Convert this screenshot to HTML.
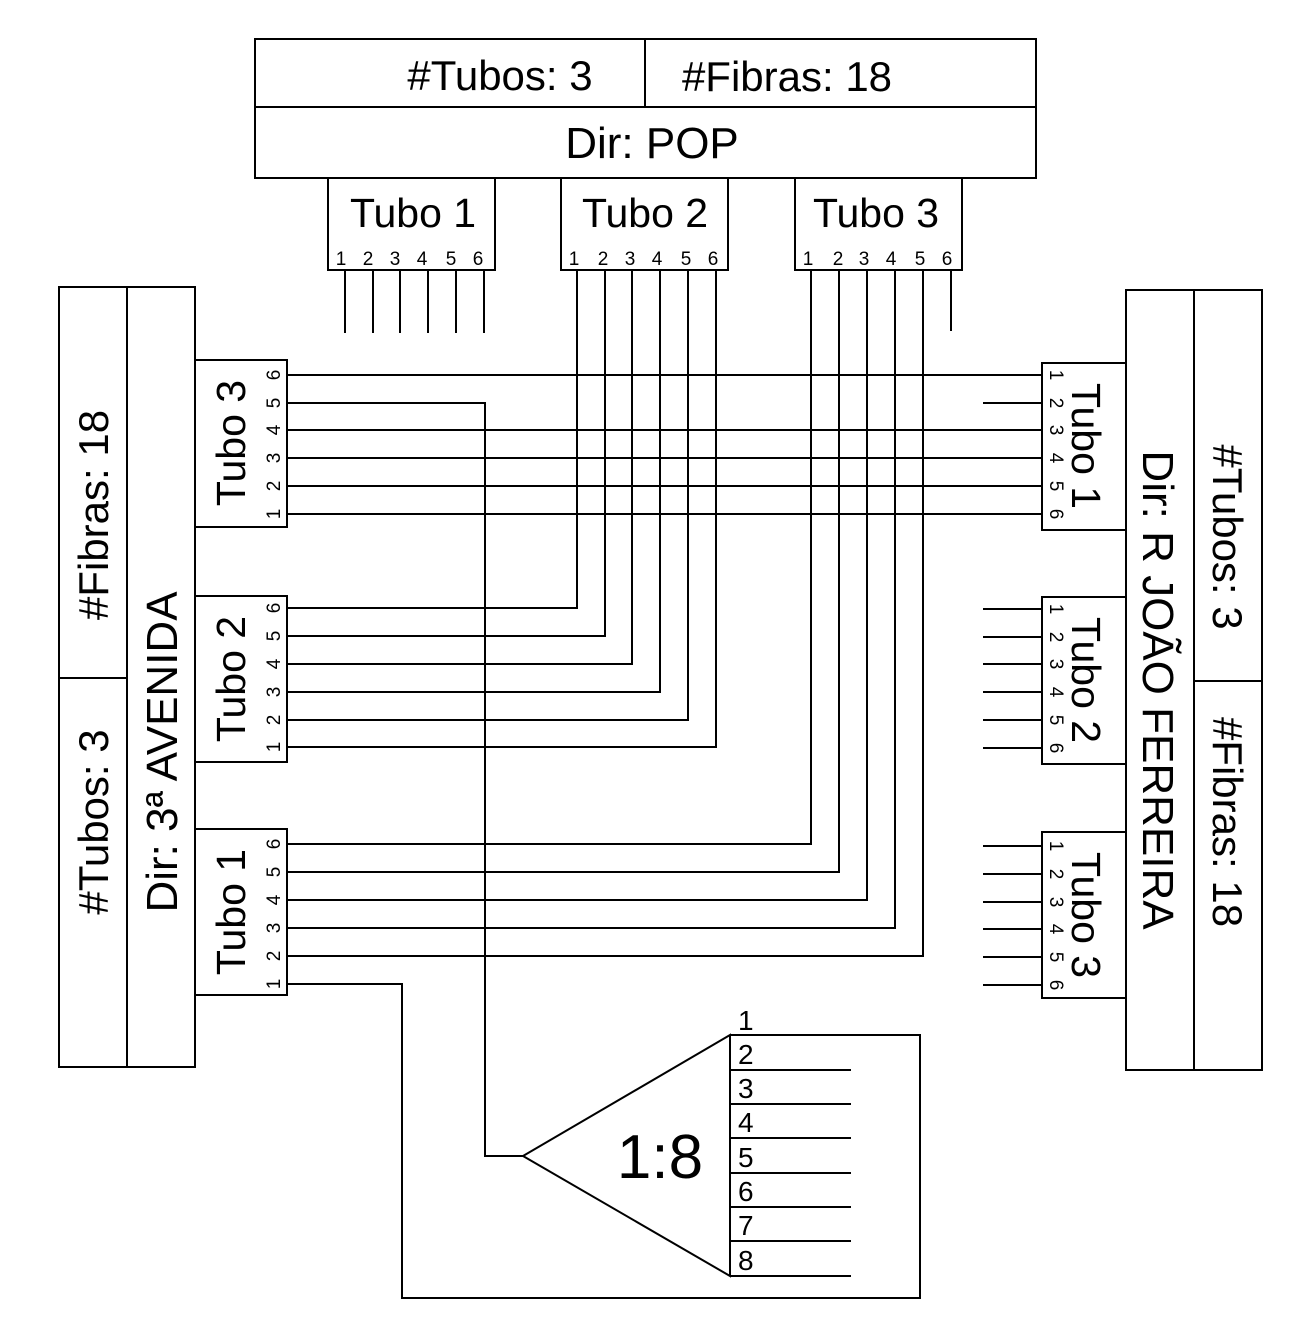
<!DOCTYPE html>
<html><head><meta charset="utf-8"><style>
html,body{margin:0;padding:0;background:#fff}
svg{display:block}
text{font-family:"Liberation Sans",sans-serif;fill:#000}
</style></head><body>
<svg width="1312" height="1343" viewBox="0 0 1312 1343" xmlns="http://www.w3.org/2000/svg">
<g fill="none" stroke="#000" stroke-width="2">
<rect x="255" y="39" width="781" height="139"/>
<line x1="255" y1="107" x2="1036" y2="107"/>
<line x1="645" y1="39" x2="645" y2="107"/>
<rect x="328" y="178" width="167" height="92"/>
<rect x="561" y="178" width="167" height="92"/>
<rect x="795" y="178" width="167" height="92"/>
<path d="M345 270V333M373 270V333M400 270V333M428 270V333M456 270V333M484 270V333"/>
<path d="M951 270V331"/>
<rect x="59" y="287" width="136" height="780"/>
<line x1="127" y1="287" x2="127" y2="1067"/>
<line x1="59" y1="678" x2="127" y2="678"/>
<rect x="195" y="360" width="92" height="167"/>
<rect x="195" y="596" width="92" height="166"/>
<rect x="195" y="829" width="92" height="166"/>
<rect x="1126" y="290" width="136" height="780"/>
<line x1="1194" y1="290" x2="1194" y2="1070"/>
<line x1="1194" y1="681" x2="1262" y2="681"/>
<rect x="1042" y="363" width="84" height="167"/>
<rect x="1042" y="597" width="84" height="167"/>
<rect x="1042" y="832" width="84" height="166"/>
<path d="M287 375H1042M287 430H1042M287 458H1042M287 486H1042M287 514H1042"/>
<path d="M983 403H1042"/>
<path d="M287 403H485V1156H523"/>
<path d="M287 608H577V270M287 636H605V270M287 664H632V270M287 692H660V270M287 720H688V270M287 747H716V270"/>
<path d="M287 844H811V270M287 872H839V270M287 900H867V270M287 928H895V270M287 956H923V270"/>
<path d="M287 984H402V1298H920V1035H730"/>
<path d="M983 609H1042M983 637H1042M983 664H1042M983 692H1042M983 720H1042M983 748H1042"/>
<path d="M983 846H1042M983 874H1042M983 902H1042M983 929H1042M983 957H1042M983 985H1042"/>
<path d="M523 1156L730 1035V1276Z"/>
<path d="M730 1070H851M730 1104H851M730 1138H851M730 1173H851M730 1207H851M730 1241H851M730 1276H851"/>
</g>
<text x="500" y="90" font-size="42" text-anchor="middle">#Tubos: 3</text>
<text x="787" y="91" font-size="42" text-anchor="middle">#Fibras: 18</text>
<text x="652" y="158" font-size="44" text-anchor="middle">Dir: POP</text>
<text x="413" y="227" font-size="41" text-anchor="middle">Tubo 1</text>
<text x="645" y="227" font-size="41" text-anchor="middle">Tubo 2</text>
<text x="876" y="227" font-size="41" text-anchor="middle">Tubo 3</text>
<g font-size="19" text-anchor="middle">
<text x="341" y="265">1</text><text x="368" y="265">2</text><text x="395" y="265">3</text><text x="422" y="265">4</text><text x="451" y="265">5</text><text x="478" y="265">6</text>
<text x="574" y="265">1</text><text x="603" y="265">2</text><text x="630" y="265">3</text><text x="657" y="265">4</text><text x="686" y="265">5</text><text x="713" y="265">6</text>
<text x="808" y="265">1</text><text x="838" y="265">2</text><text x="864" y="265">3</text><text x="891" y="265">4</text><text x="920" y="265">5</text><text x="947" y="265">6</text>
</g>
<g text-anchor="middle">
<text transform="translate(108,515) rotate(-90)" font-size="42">#Fibras: 18</text>
<text transform="translate(108,822) rotate(-90)" font-size="42">#Tubos: 3</text>
<text transform="translate(177,752) rotate(-90)" font-size="44">Dir: 3ª AVENIDA</text>
<text transform="translate(245,443) rotate(-90)" font-size="41">Tubo 3</text>
<text transform="translate(245,679) rotate(-90)" font-size="41">Tubo 2</text>
<text transform="translate(245,912) rotate(-90)" font-size="41">Tubo 1</text>
</g>
<g font-size="19" text-anchor="middle">
<g transform="translate(280,0)">
<text transform="translate(0,375) rotate(-90)">6</text><text transform="translate(0,403) rotate(-90)">5</text><text transform="translate(0,430) rotate(-90)">4</text><text transform="translate(0,458) rotate(-90)">3</text><text transform="translate(0,486) rotate(-90)">2</text><text transform="translate(0,514) rotate(-90)">1</text>
<text transform="translate(0,608) rotate(-90)">6</text><text transform="translate(0,636) rotate(-90)">5</text><text transform="translate(0,664) rotate(-90)">4</text><text transform="translate(0,692) rotate(-90)">3</text><text transform="translate(0,720) rotate(-90)">2</text><text transform="translate(0,747) rotate(-90)">1</text>
<text transform="translate(0,844) rotate(-90)">6</text><text transform="translate(0,872) rotate(-90)">5</text><text transform="translate(0,900) rotate(-90)">4</text><text transform="translate(0,928) rotate(-90)">3</text><text transform="translate(0,956) rotate(-90)">2</text><text transform="translate(0,984) rotate(-90)">1</text>
</g>
</g>
<g text-anchor="middle">
<text transform="translate(1213,537) rotate(90)" font-size="42">#Tubos: 3</text>
<text transform="translate(1213,822) rotate(90)" font-size="42">#Fibras: 18</text>
<text transform="translate(1143,690) rotate(90)" font-size="44">Dir: R JOÃO FERREIRA</text>
<text transform="translate(1072,446) rotate(90)" font-size="41">Tubo 1</text>
<text transform="translate(1072,680) rotate(90)" font-size="41">Tubo 2</text>
<text transform="translate(1072,915) rotate(90)" font-size="41">Tubo 3</text>
</g>
<g font-size="19" text-anchor="middle">
<g transform="translate(1050,0)">
<text transform="translate(0,375) rotate(90)">1</text><text transform="translate(0,403) rotate(90)">2</text><text transform="translate(0,430) rotate(90)">3</text><text transform="translate(0,458) rotate(90)">4</text><text transform="translate(0,486) rotate(90)">5</text><text transform="translate(0,514) rotate(90)">6</text>
<text transform="translate(0,609) rotate(90)">1</text><text transform="translate(0,637) rotate(90)">2</text><text transform="translate(0,664) rotate(90)">3</text><text transform="translate(0,692) rotate(90)">4</text><text transform="translate(0,720) rotate(90)">5</text><text transform="translate(0,748) rotate(90)">6</text>
<text transform="translate(0,846) rotate(90)">1</text><text transform="translate(0,874) rotate(90)">2</text><text transform="translate(0,902) rotate(90)">3</text><text transform="translate(0,929) rotate(90)">4</text><text transform="translate(0,957) rotate(90)">5</text><text transform="translate(0,985) rotate(90)">6</text>
</g>
</g>
<text x="660" y="1178" font-size="62" text-anchor="middle">1:8</text>
<g font-size="28">
<text x="738" y="1030">1</text>
<text x="738" y="1064">2</text>
<text x="738" y="1098">3</text>
<text x="738" y="1132">4</text>
<text x="738" y="1167">5</text>
<text x="738" y="1201">6</text>
<text x="738" y="1235">7</text>
<text x="738" y="1270">8</text>
</g>
</svg>
</body></html>
